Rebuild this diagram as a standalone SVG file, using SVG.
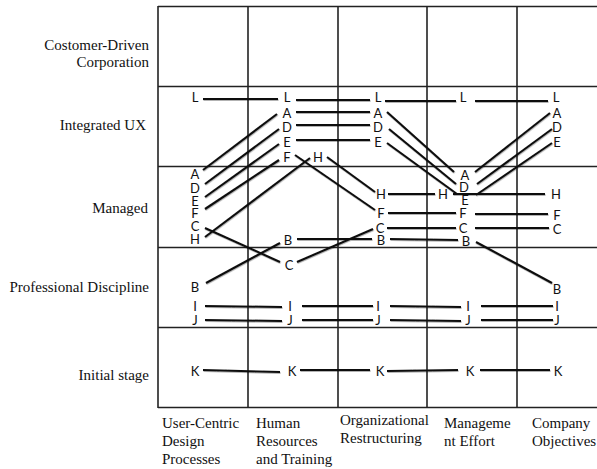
<svg xmlns="http://www.w3.org/2000/svg" width="597" height="469" viewBox="0 0 597 469">
  <defs>
    <filter id="soft" x="-10%" y="-50%" width="120%" height="200%">
      <feDropShadow dx="0.5" dy="1" stdDeviation="0.7" flood-color="#000" flood-opacity="0.3"/>
    </filter>
  </defs>
  <style>
    .grid { stroke: #222; stroke-width: 1.6; fill: none; }
    .lbl { font-family: "Liberation Serif", "Times New Roman", serif; font-size: 15px; fill: #111; }
    .row { text-anchor: end; }
    .ltr { font-family: Lato, "Open Sans", "Liberation Sans", sans-serif; font-size: 13px; fill: #111; text-anchor: middle; }
    .conn line { stroke: #111; stroke-width: 2.1; stroke-linecap: butt; }
  </style>

  <rect width="597" height="469" fill="#fff"/>

  <!-- grid -->
  <g id="grid" class="grid">
    <line x1="158" y1="6.5" x2="597" y2="6.5"/>
    <line x1="158" y1="86.5" x2="597" y2="86.5"/>
    <line x1="158" y1="166.5" x2="597" y2="166.5"/>
    <line x1="158" y1="247.5" x2="597" y2="247.5"/>
    <line x1="158" y1="327.5" x2="597" y2="327.5"/>
    <line x1="158" y1="407.5" x2="597" y2="407.5"/>
    <line x1="158" y1="6" x2="158" y2="408"/>
    <line x1="248" y1="6" x2="248" y2="408"/>
    <line x1="338" y1="6" x2="338" y2="408"/>
    <line x1="427" y1="6" x2="427" y2="408"/>
    <line x1="517" y1="6" x2="517" y2="408"/>
  </g>

  <!-- row labels -->
  <g id="rows" class="lbl row">
    <text x="149" y="50">Costomer-Driven</text>
    <text x="149" y="67">Corporation</text>
    <text x="146" y="130">Integrated UX</text>
    <text x="148" y="213">Managed</text>
    <text x="149" y="292">Professional Discipline</text>
    <text x="149" y="380">Initial stage</text>
  </g>

  <!-- column labels -->
  <g id="cols" class="lbl">
    <text x="162" y="428">User-Centric</text>
    <text x="162" y="446">Design</text>
    <text x="162" y="464">Processes</text>
    <text x="256" y="428">Human</text>
    <text x="256" y="446">Resources</text>
    <text x="256" y="464">and Training</text>
    <text x="340" y="425">Organizational</text>
    <text x="340" y="443">Restructuring</text>
    <text x="444" y="428">Manageme</text>
    <text x="444" y="446">nt Effort</text>
    <text x="532" y="428">Company</text>
    <text x="532" y="446">Objectives</text>
  </g>

  <!-- connectors -->
  <g id="connectors" class="conn" filter="url(#soft)">
    <!-- L -->
    <line x1="203" y1="99" x2="278" y2="99"/>
    <line x1="296" y1="100" x2="370" y2="100"/>
    <line x1="385" y1="101" x2="456" y2="101"/>
    <line x1="475" y1="101" x2="548" y2="101"/>
    <!-- A -->
    <line x1="203" y1="170" x2="277" y2="114"/>
    <line x1="296" y1="112" x2="370" y2="112"/>
    <line x1="387" y1="112" x2="454" y2="172"/>
    <line x1="475" y1="172" x2="550" y2="113"/>
    <!-- D -->
    <line x1="205" y1="184" x2="279" y2="129"/>
    <line x1="296" y1="125" x2="370" y2="125"/>
    <line x1="389" y1="129" x2="456" y2="184"/>
    <line x1="477" y1="184" x2="552" y2="129"/>
    <!-- E -->
    <line x1="205" y1="197" x2="279" y2="144"/>
    <line x1="296" y1="140" x2="370" y2="140"/>
    <line x1="387" y1="143" x2="457" y2="194"/>
    <line x1="476" y1="195" x2="552" y2="143"/>
    <!-- F -->
    <line x1="205" y1="209" x2="279" y2="160"/>
    <line x1="295" y1="155" x2="375" y2="210"/>
    <line x1="388" y1="213" x2="456" y2="213"/>
    <line x1="475" y1="214" x2="548" y2="214"/>
    <!-- H -->
    <line x1="205" y1="237" x2="310" y2="158"/>
    <line x1="327" y1="157" x2="375" y2="192"/>
    <line x1="388" y1="194" x2="435" y2="194"/>
    <line x1="453" y1="194" x2="545" y2="194"/>
    <!-- C -->
    <line x1="205" y1="228" x2="280" y2="262"/>
    <line x1="297" y1="262" x2="373" y2="229"/>
    <line x1="387" y1="228" x2="456" y2="228"/>
    <line x1="475" y1="228" x2="549" y2="228"/>
    <!-- B -->
    <line x1="206" y1="283" x2="280" y2="243"/>
    <line x1="297" y1="239" x2="372" y2="239"/>
    <line x1="390" y1="239" x2="458" y2="240"/>
    <line x1="476" y1="242" x2="552" y2="283"/>
    <!-- I -->
    <line x1="205" y1="306" x2="282" y2="307"/>
    <line x1="302" y1="306" x2="373" y2="306"/>
    <line x1="390" y1="306" x2="461" y2="307"/>
    <line x1="481" y1="306" x2="553" y2="306"/>
    <!-- J -->
    <line x1="205" y1="320" x2="282" y2="321"/>
    <line x1="302" y1="320" x2="373" y2="320"/>
    <line x1="390" y1="320" x2="461" y2="321"/>
    <line x1="481" y1="320" x2="553" y2="320"/>
    <!-- K -->
    <line x1="203" y1="370" x2="280" y2="372"/>
    <line x1="300" y1="370" x2="370" y2="370"/>
    <line x1="387" y1="371" x2="458" y2="370"/>
    <line x1="480" y1="370" x2="550" y2="370"/>
  </g>

  <!-- letter nodes, one group per column -->
  <g id="col-ucd" class="ltr">
    <text x="195" y="102">L</text>
    <text x="195" y="179">A</text>
    <text x="195" y="193">D</text>
    <text x="195" y="206">E</text>
    <text x="195" y="218">F</text>
    <text x="195" y="231">C</text>
    <text x="195" y="244">H</text>
    <text x="195" y="292">B</text>
    <text x="195" y="311">I</text>
    <text x="195" y="325">J</text>
    <text x="195" y="376">K</text>
  </g>
  <g id="col-hr" class="ltr">
    <text x="287" y="102">L</text>
    <text x="287" y="118">A</text>
    <text x="287" y="132">D</text>
    <text x="287" y="147">E</text>
    <text x="287" y="162">F</text>
    <text x="318" y="162">H</text>
    <text x="288" y="245">B</text>
    <text x="289" y="270">C</text>
    <text x="290" y="311">I</text>
    <text x="290" y="325">J</text>
    <text x="292" y="376">K</text>
  </g>
  <g id="col-org" class="ltr">
    <text x="378" y="102">L</text>
    <text x="378" y="118">A</text>
    <text x="378" y="132">D</text>
    <text x="378" y="147">E</text>
    <text x="381" y="199">H</text>
    <text x="381" y="218">F</text>
    <text x="380" y="233">C</text>
    <text x="381" y="245">B</text>
    <text x="378" y="311">I</text>
    <text x="378" y="325">J</text>
    <text x="380" y="376">K</text>
  </g>
  <g id="col-mgmt" class="ltr">
    <text x="463" y="102">L</text>
    <text x="465" y="180">A</text>
    <text x="464" y="192">D</text>
    <text x="465" y="205">E</text>
    <text x="443" y="199">H</text>
    <text x="463" y="218">F</text>
    <text x="463" y="233">C</text>
    <text x="466" y="246">B</text>
    <text x="468" y="311">I</text>
    <text x="468" y="325">J</text>
    <text x="470" y="376">K</text>
  </g>
  <g id="col-obj" class="ltr">
    <text x="556" y="102">L</text>
    <text x="557" y="118">A</text>
    <text x="557" y="132">D</text>
    <text x="557" y="147">E</text>
    <text x="556" y="199">H</text>
    <text x="557" y="220">F</text>
    <text x="557" y="234">C</text>
    <text x="557" y="294">B</text>
    <text x="557" y="311">I</text>
    <text x="557" y="325">J</text>
    <text x="558" y="376">K</text>
  </g>
</svg>
